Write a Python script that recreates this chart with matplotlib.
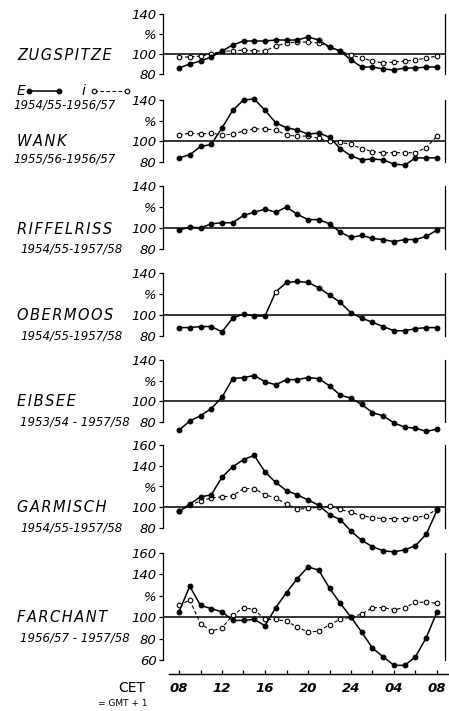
import matplotlib
matplotlib.use('Agg')
import matplotlib.pyplot as plt
from matplotlib.lines import Line2D

# hourly values 08 CET .. 08 CET next day, in % of the daily mean
hours = list(range(8, 33))
hour_ticks = [8, 12, 16, 20, 24, 28, 32]
hour_labels = ['08', '12', '16', '20', '24', '04', '08']

stations = ['ZUGSPITZE', 'WANK', 'RIFFELRISS', 'OBERMOOS', 'EIBSEE', 'GARMISCH', 'FARCHANT']
periods = ['1954/55-1956/57', '1955/56-1956/57', '1954/55-1957/58', '1954/55-1957/58',
           '1953/54 - 1957/58', '1954/55-1957/58', '1956/57 - 1957/58']

zug_E = [86, 90, 93, 97, 103, 109, 113, 113, 113, 114, 114, 114, 117, 114, 107, 103,
         94, 87, 87, 85, 84, 86, 86, 87, 87]
zug_i = [97, 97, 98, 100, 103, 103, 104, 103, 103, 108, 111, 112, 112, 111, 107, 103,
         99, 96, 93, 91, 92, 93, 94, 96, 98]
wank_E = [84, 87, 95, 97, 113, 130, 140, 141, 130, 118, 113, 111, 107, 108, 104, 93,
          86, 82, 83, 82, 78, 77, 84, 84, 84]
wank_i = [106, 108, 107, 108, 106, 107, 110, 112, 112, 111, 106, 105, 105, 103, 100, 99,
          97, 93, 90, 89, 89, 89, 89, 94, 105]
riff_E = [98, 101, 100, 104, 105, 105, 112, 115, 118, 115, 120, 113, 108, 108, 104, 96,
          91, 93, 90, 89, 87, 89, 89, 92, 98]
ober_E = [88, 88, 89, 89, 84, 97, 101, 99, 99, 122, 131, 132, 131, 126, 119, 112,
          102, 97, 93, 89, 85, 85, 87, 88, 88]
eib_E = [72, 81, 86, 93, 104, 122, 123, 125, 119, 116, 121, 121, 123, 122, 115, 106,
         103, 97, 89, 86, 79, 75, 74, 71, 73]
garm_E = [96, 103, 110, 112, 129, 139, 146, 150, 134, 124, 116, 112, 107, 102, 93, 88,
          77, 68, 62, 58, 57, 59, 63, 74, 97]
garm_i = [96, 102, 106, 109, 110, 111, 118, 118, 112, 109, 103, 98, 99, 100, 101, 98,
          95, 92, 90, 89, 89, 89, 90, 92, 98]
farch_E = [105, 129, 111, 108, 105, 97, 97, 98, 92, 109, 123, 136, 147, 144, 127, 113,
           100, 86, 71, 63, 55, 55, 63, 81, 105]
farch_i = [111, 116, 94, 87, 90, 102, 109, 107, 98, 98, 96, 91, 86, 87, 93, 98,
           100, 103, 109, 109, 107, 109, 114, 114, 113]

# Obermoos: the 17 h value is an open point
ober_open = [17]

E_series = [zug_E, wank_E, riff_E, ober_E, eib_E, garm_E, farch_E]
i_series = [zug_i, wank_i, None, None, None, garm_i, farch_i]
y_ranges = [(80, 140), (80, 140), (80, 140), (80, 140), (80, 140), (80, 160), (60, 160)]


############################################
#               LAYOUT (px)                #
############################################

W, H = 449, 711
fig = plt.figure(figsize=(W / 100, H / 100), dpi=100)


def box(x0, y0, x1, y1):
    return [x0 / W, 1 - y1 / H, (x1 - x0) / W, (y1 - y0) / H]


def fy(y):
    return 1 - y / H


# top tick / bottom tick of each panel
panel_px = [(14, 74), (100, 162), (186, 249), (273, 336), (360, 422), (445, 528), (553, 660)]
label_px = [(55, 105), (141, 159), (229, 249), (316, 336), (401, 422), (507, 528), (617, 638)]

ax_left, ax_right = 163, 445
px_per_hour = 10.75
x08 = 179
xlim = (8 + (ax_left - x08) / px_per_hour, 32 + (ax_right - 437) / px_per_hour)

italic = dict(style='italic', color='black')
dash = (0, (3.2, 2.2))

E_style = dict(color='black', lw=1.1, marker='o', ms=3.2, mfc='black', mec='black',
               clip_on=False, zorder=4)
i_style = dict(color='black', lw=0.8, ls=dash, marker='o', ms=3.3, mfc='white',
               mec='black', mew=0.8, clip_on=False, zorder=3)


############################################
#               PANELS                     #
############################################

for k in range(len(stations)):
    top, bot = panel_px[k]
    lo, hi = y_ranges[k]
    ax = fig.add_axes(box(ax_left, top, ax_right, bot))
    ax.patch.set_alpha(0)
    ax.set_xlim(*xlim)
    ax.set_ylim(lo, hi)
    for s in ['top', 'bottom']:
        ax.spines[s].set_visible(False)
    for s in ['left', 'right']:
        ax.spines[s].set_linewidth(0.9)
    ax.set_xticks([])
    yt = list(range(lo, hi + 1, 20))
    ax.set_yticks(yt, ['%' if v == 120 else str(v) for v in yt])
    ax.tick_params(axis='y', direction='out', length=3, width=0.9, pad=1.5, labelsize=9.5)
    for lab in ax.get_yticklabels():
        lab.set_fontstyle('italic')
    ax.axhline(100, color='black', lw=1.1, zorder=2)

    if i_series[k] is not None:
        ax.plot(hours, i_series[k], **i_style)
    if k == 3:
        ax.plot(hours, E_series[k], color='black', lw=1.1, clip_on=False, zorder=4)
        filled = [j for j, h in enumerate(hours) if h not in ober_open]
        opened = [j for j, h in enumerate(hours) if h in ober_open]
        ax.plot([hours[j] for j in filled], [E_series[k][j] for j in filled],
                ls='none', marker='o', ms=3.2, color='black', clip_on=False, zorder=5)
        ax.plot([hours[j] for j in opened], [E_series[k][j] for j in opened],
                ls='none', marker='o', ms=3.3, mfc='white', mec='black', mew=0.8,
                clip_on=False, zorder=5)
    else:
        ax.plot(hours, E_series[k], **E_style)

    name_y, period_y = label_px[k]
    fig.text(17 / W, fy(name_y), '\u200a'.join(stations[k]), fontsize=10.5,
             va='center', ha='left', **italic)
    fig.text((13 if k < 2 else 20) / W, fy(period_y), periods[k], fontsize=8.5,
             va='center', ha='left', **italic)


############################################
#               LEGEND                     #
############################################

fig.text(17 / W, fy(91), 'E', fontsize=10, va='center', ha='left', **italic)
fig.add_artist(Line2D([29 / W, 59 / W], [fy(91), fy(91)], transform=fig.transFigure,
                      color='black', lw=1.1, marker='o', ms=3.2))
fig.text(82 / W, fy(91), 'i', fontsize=10, va='center', ha='left', **italic)
fig.add_artist(Line2D([94 / W, 127 / W], [fy(91), fy(91)], transform=fig.transFigure,
                      color='black', lw=0.8, ls=dash, marker='o', ms=3.3,
                      mfc='white', mec='black', mew=0.8))


############################################
#               TIME AXIS                  #
############################################

axx = fig.add_axes(box(169, 673, 449, 674))
axx.patch.set_alpha(0)
axx.set_xlim(8 + (169 - x08) / px_per_hour, 32 + (449 - 437) / px_per_hour)
for s in ['top', 'left', 'right']:
    axx.spines[s].set_visible(False)
axx.spines['bottom'].set_linewidth(1.0)
axx.set_yticks([])
axx.set_xticks(hour_ticks, hour_labels)
axx.set_xticks(list(range(10, 33, 4)), minor=True)
axx.tick_params(axis='x', which='both', direction='in', length=3, width=0.9, pad=6,
                labelsize=9.5)
for lab in axx.get_xticklabels():
    lab.set_fontstyle('italic')
    lab.set_fontweight('bold')

fig.text(132 / W, fy(688), 'CET', fontsize=10, ha='center', va='center')
fig.text(123 / W, fy(703), '= GMT + 1', fontsize=6.5, ha='center', va='center')

fig.savefig('out.png', dpi=100)
